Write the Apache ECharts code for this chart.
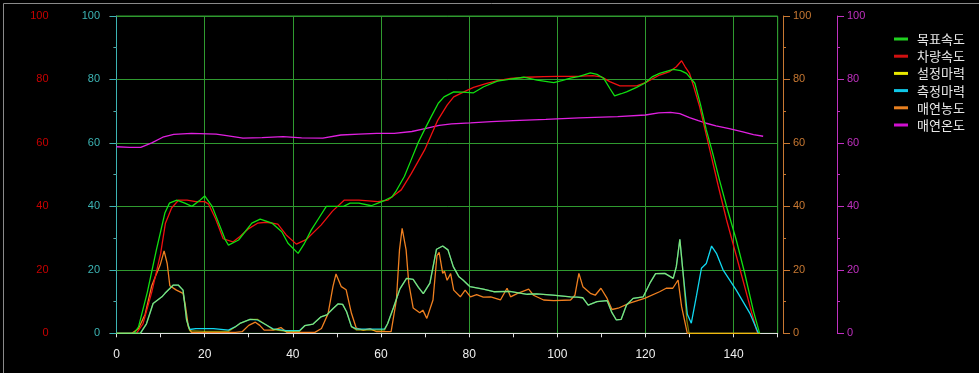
<!DOCTYPE html>
<html>
<head>
<meta charset="utf-8">
<script src="https://cdn.jsdelivr.net/npm/echarts@6/dist/echarts.min.js"></script>
<style>
html,body{margin:0;padding:0;background:#000;}
#c{width:979px;height:373px;}
</style>
</head>
<body>
<div id="c"></div>
<script>
// ---- data (time, value) ----
const seriesNames = ['목표속도','차량속도','설정마력','측정마력','매연농도','매연온도'];
const xTicks = [0,20,40,60,80,100,120,140];

const targetSpeed = [[0,0],[4,0],[5,2],[7,13],[9,26],[11,38],[12,41],[13.7,42],[15.5,41],[17.1,40],[19,42],[20,43.3],[21.7,40],[23.2,34.7],[24.7,29.4],[25.4,27.8],[27.7,29.4],[30.7,34.7],[32.6,36],[35.3,34.7],[37.5,32],[38.9,28.4],[41.2,25.2],[42.5,28],[44.2,32.6],[46,36.5],[47.6,40],[51.5,40],[53,41],[55,41],[57.8,40.2],[59.3,41],[61,42],[62.5,43],[63.5,45],[65.3,49.4],[66.8,54.5],[68.4,60],[70,64.5],[71.4,68.3],[73,72.5],[74.3,74.5],[76.5,76.1],[78.5,76],[81,75.8],[83.3,77.7],[86.4,79.5],[89,80],[92.4,80.7],[95.4,79.8],[99.2,79],[101,79.6],[103,80.4],[105,81],[107.5,82.1],[109,81.6],[110.5,80.4],[112,77],[113,74.8],[114.5,75.5],[115.7,76.1],[118,77.5],[119.8,78.8],[121.5,80.8],[123.2,81.9],[126.3,83.2],[128,82.8],[129.3,81.9],[131.2,78.8],[132.5,72],[133.8,64.1],[135.2,57],[136.8,48.3],[138.6,39],[140.6,29.4],[142.5,19],[144.5,7],[145.9,0]];

const vehicleSpeed = [[0,0],[4.5,0],[6,3],[8,13],[10,25],[11.1,34.7],[12.5,39.5],[14.1,42],[16,42],[18,41.5],[20,41.5],[20.9,40.7],[22.5,36],[24.2,29.8],[26.4,28.8],[28,30.5],[30,33],[32,34.7],[34,35],[36.6,34.4],[38.5,31],[40.8,28.1],[43,29.5],[46.4,34.1],[49,38.5],[51.7,42],[55,42],[59.3,41.5],[61.6,42],[63,43.5],[64.6,45.2],[66.9,50.4],[69.9,57.8],[72.9,67.2],[75,71.9],[76.5,74.5],[78.8,76.1],[81,77.5],[84,78.8],[86.5,79.6],[89.4,80.3],[93,80.7],[96.9,80.9],[100,81],[104.5,81],[108,81.2],[110,80.8],[111.9,79.3],[114.2,78],[118,78],[120,79],[123.2,81.4],[125.5,82.5],[127,84],[128.2,85.9],[129,84],[130,81.9],[131,77.5],[132.3,71.4],[134.6,57.8],[136.5,46.5],[138.4,35.7],[140.5,25],[142.1,16.8],[143.8,8],[145.2,1],[145.5,0]];

const setPower = [[0,0],[5.4,0],[6.8,3],[8.3,9.4],[10.3,11.5],[11,12.6],[12.9,15.2],[14,15.2],[15.1,13.6],[15.9,4.2],[16.6,0.8],[20,0.6],[25.4,0.6],[26.9,2],[28,3.1],[30.3,4.4],[32,4.4],[34,2.6],[35.5,1.2],[38.5,0.6],[41.5,0.6],[42.7,2.4],[44.6,2.9],[46.4,5.2],[47.7,5.8],[49.2,7.9],[50.3,9.3],[51.3,9.1],[52.2,6.8],[53.3,2.1],[54.5,1],[60.8,1],[61.5,3],[62.8,8],[64.3,14],[65.8,17.3],[67.3,17],[68.5,14.5],[69.6,12.5],[71.1,15.8],[72.6,26.5],[74,27.5],[75.2,26.3],[76.4,21],[77.7,17.8],[78.6,16.8],[80.2,14.7],[83.2,13.9],[85.6,13.1],[89.2,13.2],[93.2,12.3],[95.3,12.4],[99,12],[103,11.5],[104.5,11.4],[105.8,11.2],[107,8.9],[109,10],[111.3,10.3],[112.4,6.5],[113.4,4.2],[114.5,4.4],[115.7,8.9],[117.2,11],[119.5,11.5],[121,15.8],[122.3,18.8],[124.4,18.9],[126.3,17.3],[127,21],[127.8,29.6],[128.5,19.5],[129.4,4],[129.9,0],[146,0]];

const measPower = [[0,0],[5.4,0],[6.8,3],[8.3,9.4],[10.3,11.5],[11,12.6],[12.9,15.2],[14,15.2],[15.1,13.6],[15.9,4.2],[16.6,1.2],[18,1.5],[22,1.5],[25.4,1],[26.9,2],[28,3.1],[30.3,4.4],[32,4.2],[34,2.6],[35.5,1.4],[38.5,0.8],[41.5,0.8],[42.7,2.4],[44.6,2.9],[46.4,5.2],[47.7,5.8],[49.2,7.9],[50.3,9.3],[51.3,9.1],[52.2,6.8],[53.3,2.1],[54.5,1.3],[60.8,1.3],[61.5,3],[62.8,8],[64.3,14],[65.8,17.3],[67.3,17],[68.5,14.5],[69.6,12.5],[71.1,15.8],[72.6,26.5],[74,27.5],[75.2,26.3],[76.4,21],[77.7,17.8],[78.6,16.8],[80.2,14.7],[83.2,13.9],[85.6,13.1],[89.2,13.2],[93.2,12.3],[95.3,12.4],[99,12],[103,11.5],[104.5,11.4],[105.8,11.2],[107,8.9],[109,10],[111.3,10.3],[112.4,6.5],[113.4,4.2],[114.5,4.4],[115.7,8.9],[117.2,11],[119.5,11.5],[121,15.8],[122.3,18.8],[124.4,18.9],[126.3,17.3],[127,21],[127.8,29.6],[128.5,19.5],[129.5,6],[130.4,3.2],[131.6,12],[132.7,20.5],[133.8,22],[135,27.5],[136.1,25.2],[137.6,20],[140.6,13.6],[143.7,6.3],[145.6,0]];

const smokeDensity = [[0,0],[3.5,0],[5,1.5],[6.5,6],[8,15],[8.8,17.8],[9.9,21.5],[10.8,26],[11.5,22],[12.1,15],[13.6,13.6],[15.1,12.6],[15.6,9],[16.3,2.1],[17,0.3],[27,0.3],[28.5,0.5],[30,2.5],[31.5,3.5],[32.5,2.5],[33.5,1],[35.5,1],[37.3,1.8],[38.6,0.3],[45,0.3],[46.5,1.5],[48,6.2],[49.1,14.7],[49.8,18.7],[51,14.7],[52.1,13.7],[53.3,6.3],[54.4,1.6],[56,1],[57.5,1.5],[59,0.5],[62.3,0.5],[63.5,10.5],[64.2,26.3],[64.8,33.1],[65.7,26.3],[66.3,15.8],[67.3,8],[68.8,6.5],[69.5,7.3],[70.4,4.7],[71.8,10.5],[72.7,24.5],[73.2,25.5],[74,18.9],[74.4,19.6],[75,16.7],[75.8,18.8],[76.5,13.6],[78,11.5],[79.1,13.6],[80.3,11.5],[81.7,12.2],[83.2,11.4],[84.9,11.5],[87.1,10.5],[88.6,14.2],[89.4,11.5],[91,12.6],[93.5,13.9],[94.6,12],[96.9,10.5],[99.2,10.3],[103,10.5],[104,12],[104.9,18.9],[105.8,14.7],[107.5,12.6],[108.6,12],[109.9,14.2],[111.3,11],[112.4,7.5],[113.8,7.9],[116.4,9.5],[119.8,11],[123.2,13.1],[124.7,14.2],[126.2,14.2],[127.4,16.8],[128.2,8.4],[129.5,0],[146,0]];

const smokeTemp = [[0,58.8],[3,58.6],[5.5,58.6],[8,60],[10.5,61.8],[13,62.7],[17,63],[22.6,62.8],[25,62.3],[28.7,61.5],[33,61.7],[37.8,62],[42,61.6],[46.8,61.5],[50.9,62.5],[55,62.8],[59,63],[63,63],[67,63.6],[70,64.5],[73.2,65.5],[76,66],[80.3,66.3],[85,66.7],[90,67],[97.4,67.4],[105,67.9],[113.7,68.3],[120,68.8],[123,69.5],[125.7,69.6],[127.8,69.2],[130,68],[132,67],[133.8,66.2],[136,65.4],[139,64.5],[142.1,63.5],[144.5,62.6],[146.7,62.1]];

// ---- styles ----
const GRID_GREEN = '#2f9a2f';
const FONT = 'Liberation Sans, Arial, sans-serif';
const colors = ['#10e010','#f01010','#f0f000','#10d8f0','#f08020','#e020e0'];
const legendColors = ['#20d020','#d01010','#e8e800','#10c8e8','#e88020','#d010d0'];

function yAxisDef(color, pos, offset, withSplit) {
  return {
    type: 'value', position: pos, offset: offset, min: 0, max: 100, interval: 20,
    axisLine: {show: true, lineStyle: {color: color, width: 1}},
    axisTick: {show: true, length: 7, lineStyle: {color: color}},
    minorTick: {show: true, splitNumber: 2, length: 3, lineStyle: {color: color}},
    axisLabel: {color: color, fontSize: 11, fontFamily: FONT, margin: 10},
    splitLine: {show: withSplit, lineStyle: {color: GRID_GREEN, width: 1, opacity: 1}},
    minorSplitLine: {show: false}
  };
}

const dataSets = [targetSpeed, vehicleSpeed, setPower, measPower, smokeDensity, smokeTemp];
const yIdx = [0, 0, 1, 1, 2, 3];
const zs = [5, 4, 7, 6, 3, 2];

const chart = echarts.init(document.getElementById('c'), null, {renderer: 'canvas'});
chart.setOption({
  backgroundColor: '#000',
  animation: false,
  grid: {left: 116.5, right: 201.3, top: 16, bottom: 39.7, show: true, borderColor: GRID_GREEN, borderWidth: 1, backgroundColor: 'transparent'},
  legend: {
    orient: 'vertical', left: 889, top: 27, icon: 'rect', itemWidth: 14, itemHeight: 3, itemGap: 3.2,
    data: seriesNames.map((n, i) => ({name: n, itemStyle: {color: legendColors[i]}})),
    textStyle: {color: '#e8e8e8', fontSize: 13, lineHeight: 14, fontFamily: 'Noto Sans CJK KR', padding: [0, 0, 0, 4]},
    selectedMode: false
  },
  xAxis: [
    {
      type: 'value', min: 0, max: 150, interval: 10, position: 'bottom', offset: 7,
      axisLine: {show: true, lineStyle: {color: '#e0e0e0'}},
      axisTick: {show: true, length: 4, lineStyle: {color: '#e0e0e0'}},
      axisLabel: {color: '#f0f0f0', fontSize: 12, fontFamily: FONT, margin: 8,
        formatter: v => (xTicks.indexOf(v) >= 0 ? String(v) : '')},
      splitLine: {show: false}
    },
    {
      type: 'value', min: 0, max: 150, interval: 20, position: 'bottom',
      axisLine: {show: false}, axisTick: {show: false}, axisLabel: {show: false},
      splitLine: {show: true, lineStyle: {color: GRID_GREEN, width: 1, opacity: 1}}
    }
  ],
  yAxis: [
    yAxisDef('#c80000', 'left', 58, false),
    yAxisDef('#3cb4b4', 'left', 6.5, true),
    yAxisDef('#c87832', 'right', 5.3, false),
    yAxisDef('#c030c0', 'right', 59.3, false)
  ],
  series: dataSets.map((d, i) => ({
    name: seriesNames[i], type: 'line', data: d, xAxisIndex: 0, yAxisIndex: yIdx[i],
    showSymbol: false, symbol: 'none', z: zs[i],
    itemStyle: {color: legendColors[i]},
    lineStyle: {color: colors[i], width: 1.3, opacity: i === 2 ? 0.5 : 1}
  })),
  graphic: [
    {type: 'line', shape: {x1: 3.5, y1: 3.5, x2: 979, y2: 3.5}, style: {stroke: '#8a8a8a', lineWidth: 1}, silent: true},
    {type: 'line', shape: {x1: 3.5, y1: 3.5, x2: 3.5, y2: 373}, style: {stroke: '#8a8a8a', lineWidth: 1}, silent: true}
  ]
});
</script>
</body>
</html>
